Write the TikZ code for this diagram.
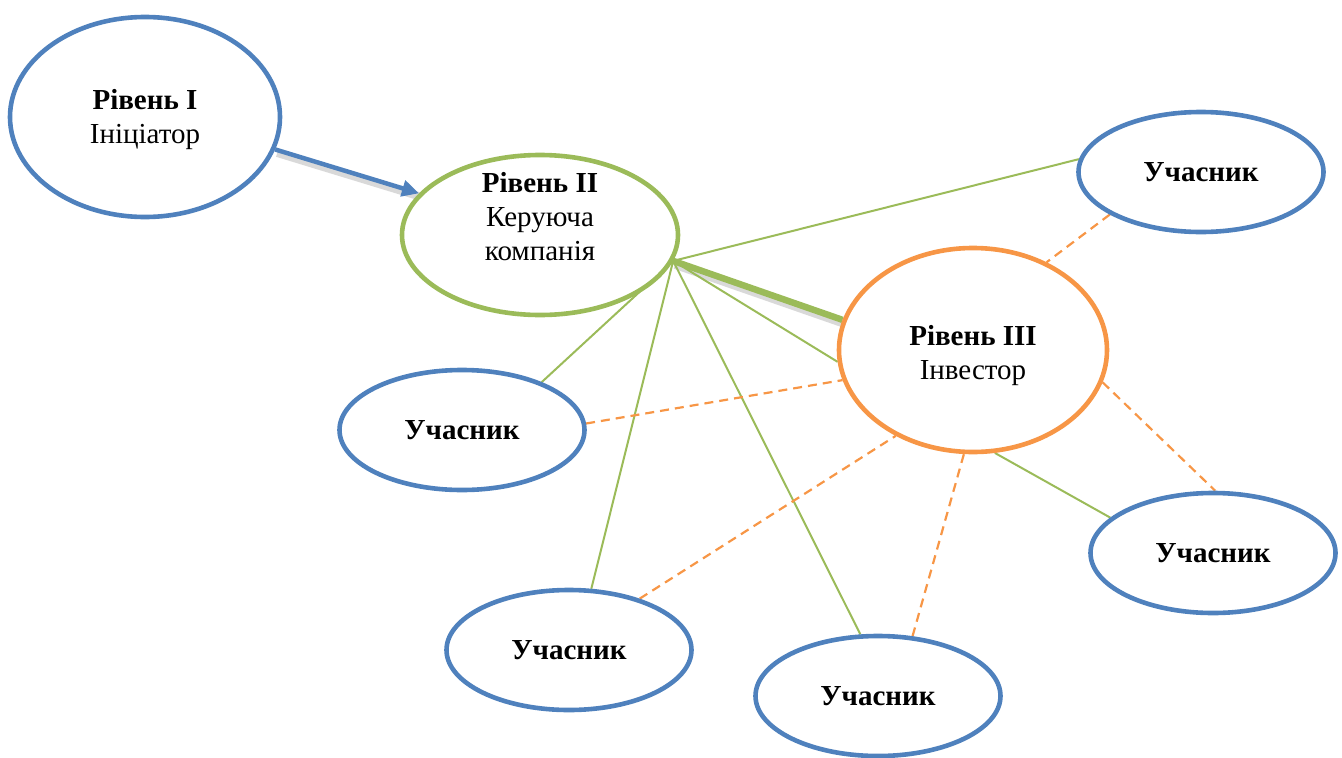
\documentclass[tikz,border=0pt]{standalone}
\usepackage{fontspec}
\setmainfont{Liberation Serif}
\usetikzlibrary{shapes.geometric,arrows.meta,backgrounds}
\definecolor{cblue}{RGB}{79,129,189}
\definecolor{cgreen}{RGB}{155,187,89}
\definecolor{corange}{RGB}{247,150,70}
\begin{document}
\begin{tikzpicture}[x=1pt,y=-1pt,
  ell/.style={ellipse, draw, line width=4.6pt, fill=white, inner sep=0pt},
  lbl/.style={align=center, inner sep=0pt, font=\fontsize{29}{34}\selectfont},
  member/.style={ellipse, draw=cblue, line width=4.6pt, fill=white, inner sep=0pt, minimum width=245pt, minimum height=120pt, font=\fontsize{29}{34}\selectfont\bfseries},
  glink/.style={cgreen, line width=2pt},
  olink/.style={corange, line width=2.2pt, dash pattern=on 9pt off 6pt},
  shade/.style={black, opacity=0.15, transform canvas={shift={(2,3.5)}}},
]
\useasboundingbox (0,0) rectangle (1342,758);
\node[ell, draw=cblue, minimum width=270pt, minimum height=200pt] (L1) at (145,117) {};
\node[ell, draw=cgreen, minimum width=276pt, minimum height=160pt] (L2) at (540,235) {};
\node[ell, draw=corange, minimum width=268pt, minimum height=204pt] (L3) at (973,350) {};
\node[lbl] (L1t) at (145,120) {\textbf{Рівень I}\\Ініціатор};
\node[lbl] (L2t) at (540,217) {\textbf{Рівень II}\\Керуюча\\компанія};
\node[lbl] (L3t) at (973,356) {\textbf{Рівень III}\\Інвестор};
\node[member] (U1) at (1201,172) {Учасник};
\node[member] (U2) at (462,430) {Учасник};
\node[member] (U3) at (569,650) {Учасник};
\node[member] (U4) at (878,696) {Учасник};
\node[member] (U5) at (1213,553) {Учасник};
\coordinate (hub) at (L2.-11.9);
\begin{scope}[on background layer]
  % shadows
  \draw[shade, line width=8pt] (L1.-14.1) -- (L2.161.7);
  \draw[shade, line width=9pt] (hub) -- (L3.167);
  % green links
  \draw[glink] (hub) -- (U1.174.4);
  \draw[glink] (hub) -- (L3.185);
  \draw[glink] (hub) -- (U2.31.1);
  \draw[glink] (hub) -- (U3.70);
  \draw[glink] (hub) -- (U4.106.7);
  \draw[glink] (L3.-78) -- (U5.161.2);
  \draw[cgreen, line width=6.5pt] (hub) -- (L3.167);
  % orange dashed links
  \draw[olink] (U1.205.5) -- (L3.50.7);
  \draw[olink] (U2.3.2) -- (L3.193.8);
  \draw[olink] (U3.36.2) -- (L3.228.1);
  \draw[olink] (U4.60.5) -- (L3.265.8);
  \draw[olink] (L3.-14.2) -- (U5.88);
  % arrow
  \draw[cblue, line width=4.5pt, -{Triangle[length=17pt,width=16pt]}] (L1.-14.1) -- (L2.161.7);
\end{scope}
\end{tikzpicture}
\end{document}
